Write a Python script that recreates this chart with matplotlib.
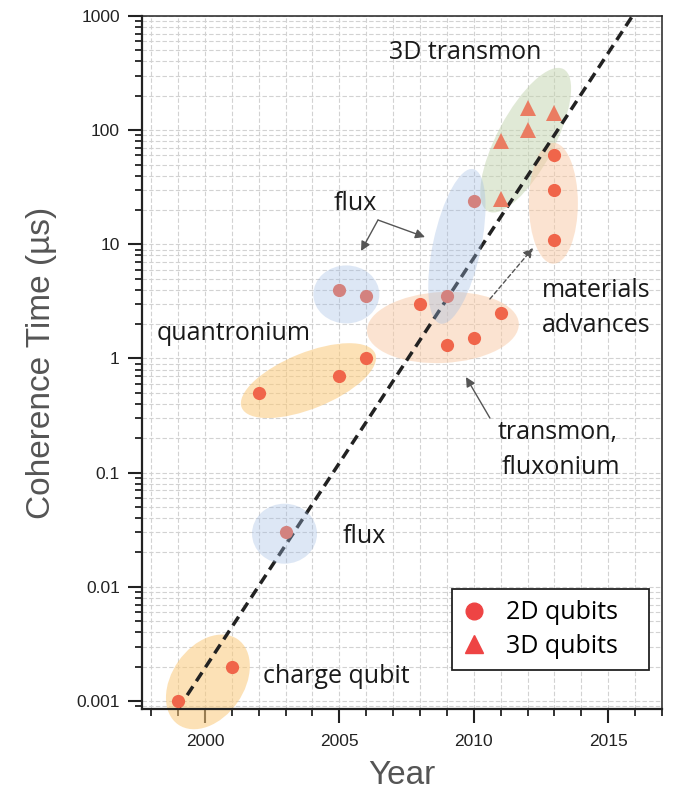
import numpy as np
import matplotlib
matplotlib.use('Agg')
import matplotlib.pyplot as plt
from matplotlib.patches import Ellipse
from matplotlib.lines import Line2D
from matplotlib.transforms import ScaledTranslation
from matplotlib.ticker import FixedLocator, LogLocator, NullFormatter

plt.rcParams['font.family'] = ['Liberation Sans', 'DejaVu Sans']

# 2D qubits (circles)
years_2d = [1999, 2001, 2002, 2003, 2005, 2005, 2006, 2006, 2008, 2009, 2009, 2010, 2010, 2011, 2013, 2013, 2013]
t2_2d = [0.001, 0.002, 0.5, 0.03, 0.7, 4.0, 1.0, 3.5, 3.0, 3.5, 1.3, 1.5, 24, 2.5, 60, 30, 11]
# 3D qubits (triangles)
years_3d = [2011, 2011, 2012, 2012, 2013]
t2_3d = [25, 80, 100, 155, 140]
# trend line (dashed)
trend_years = [1999.0, 2015.9]
trend_t2 = [0.00085, 1000]

x_major = [2000, 2005, 2010, 2015]
x_minor = list(range(1998, 2018))

# shaded groups: centre (year, T2), size in px, angle, colour, alpha, on top of points?
groups = [
    (2000.11, 0.00147, 104, 72, 55, '#fbc97a', 0.55, False),   # charge qubit
    (2003.85, 0.64, 144, 56, 22, '#fbc97a', 0.55, False),      # quantronium
    (2008.85, 1.87, 152, 71, 3, '#f9c9a4', 0.5, False),        # transmon, fluxonium
    (2011.93, 81.7, 161, 57, 62, '#c3d4ae', 0.5, False),       # 3D transmon
    (2012.96, 22.9, 49, 121, 0, '#f9c9a4', 0.5, False),        # materials
    (2002.96, 0.0292, 65, 60, 0, '#9fbbe3', 0.35, True),       # flux
    (2005.26, 3.64, 66, 58, 0, '#9fbbe3', 0.35, True),         # flux
    (2009.37, 9.6, 158, 48, 78, '#9fbbe3', 0.35, True),        # flux
]

fig = plt.figure(figsize=(6.76, 7.92), dpi=100)
ax = fig.add_axes([0.2101, 0.1048, 0.7692, 0.875])
ax.set_yscale('log')
ax.set_xlim(1997.66, 2017)
ax.set_ylim(0.000851, 1000)

ax.xaxis.set_major_locator(FixedLocator(x_major))
ax.xaxis.set_minor_locator(FixedLocator(x_minor))
ax.yaxis.set_major_locator(LogLocator(base=10, numticks=20))
ax.yaxis.set_minor_locator(LogLocator(base=10, subs=np.arange(2, 10), numticks=20))
ax.yaxis.set_minor_formatter(NullFormatter())
ax.set_yticks([0.001, 0.01, 0.1, 1, 10, 100, 1000])
ax.set_yticklabels(['0.001', '0.01', '0.1', '1', '10', '100', '1000'])

ax.grid(True, which='both', color='#d2d2d2', linestyle=(0, (4, 2)), linewidth=0.8)
ax.set_axisbelow(True)

for s in ['left', 'bottom']:
    ax.spines[s].set_linewidth(1.6)
for s in ['top', 'right']:
    ax.spines[s].set_linewidth(1.1)
for s in ax.spines.values():
    s.set_color('#222222')

ax.tick_params(axis='both', which='major', direction='out', length=10, width=1.5,
               labelsize=12.5, colors='#222222', pad=6)
ax.tick_params(axis='both', which='minor', direction='out', length=5, width=1.3, colors='#222222')
ax.tick_params(axis='x', which='major', pad=8)

# shaded regions
for cx, cy, w, h, ang, col, al, top in groups:
    tr = fig.dpi_scale_trans + ScaledTranslation(cx, cy, ax.transData)
    e = Ellipse((0, 0), w / 100, h / 100, angle=ang, transform=tr,
                facecolor=col, edgecolor='none', alpha=al, clip_on=False,
                zorder=3.5 if top else 1.5)
    ax.add_patch(e)

ax.plot(trend_years, trend_t2, color='#222222', lw=2.5, linestyle=(0, (3, 1.8)), zorder=3)

ax.plot(years_2d, t2_2d, 'o', color='#f0654a', markersize=9.5, markeredgewidth=0, zorder=3.2)
ax.plot(years_3d, t2_3d, '^', color='#ea7c62', markersize=11, markeredgewidth=0, zorder=3.2)

ax.set_xlabel('Year', fontsize=24, color='#555555', labelpad=8)
ax.set_ylabel('Coherence Time (\u00b5s)', fontsize=24, color='#555555', labelpad=14)

tf = dict(family=['Open Sans', 'DejaVu Sans'], fontsize=18, color='#1a1a1a',
          transform=ax.transAxes, va='baseline', ha='left', zorder=6)
ax.text(0.475, 0.938, '3D transmon', **tf)
ax.text(0.369, 0.720, 'flux', **tf)
ax.text(0.0288, 0.5325, 'quantronium', **tf)
ax.text(0.769, 0.5945, 'materials', **tf)
ax.text(0.769, 0.544, 'advances', **tf)
ax.text(0.683, 0.3896, 'transmon,', **tf)
ax.text(0.692, 0.339, 'fluxonium', **tf)
ax.text(0.3865, 0.2395, 'flux', **tf)
ax.text(0.2327, 0.0375, 'charge qubit', **tf)

ap = dict(arrowstyle='-|>', color='#555555', lw=1.0, mutation_scale=14, shrinkA=0, shrinkB=0)
ax.annotate('', xy=(0.4212, 0.6609), xytext=(0.4538, 0.7056), xycoords='axes fraction',
            arrowprops=ap, zorder=6)
ax.annotate('', xy=(0.5442, 0.681), xytext=(0.4538, 0.7056), xycoords='axes fraction',
            arrowprops=ap, zorder=6)
ax.annotate('', xy=(0.623, 0.479), xytext=(0.669, 0.4199), xycoords='axes fraction',
            arrowprops=ap, zorder=6)
ap2 = dict(ap, linestyle=(0, (3, 2)))
ax.annotate('', xy=(0.752, 0.6652), xytext=(0.669, 0.5916), xycoords='axes fraction',
            arrowprops=ap2, zorder=6)

handles = [Line2D([], [], marker='o', ls='none', color='#ee4444', markersize=12),
           Line2D([], [], marker='^', ls='none', color='#ee4444', markersize=13)]
leg = ax.legend(handles, ['2D qubits', '3D qubits'], loc='upper left', mode='expand',
                bbox_to_anchor=(0.596, 0.0505, 0.379, 0.1226), borderaxespad=0,
                fancybox=False, framealpha=1, edgecolor='#222222', handletextpad=0.8,
                labelspacing=0.35, borderpad=0.45, handlelength=0.9,
                prop={'family': ['Open Sans', 'DejaVu Sans'], 'size': 18})
leg.get_frame().set_linewidth(1.3)
leg.set_zorder(7)

fig.savefig('out.png', dpi=100)
